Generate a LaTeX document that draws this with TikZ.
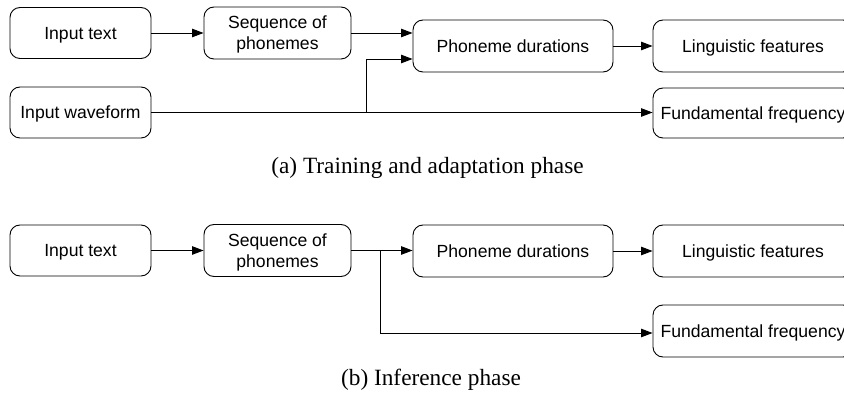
\documentclass[tikz,border=0pt]{standalone}
\usepackage{fontspec}
\setmainfont{Liberation Sans}
\newfontfamily\capfont{Liberation Serif}
\usetikzlibrary{arrows.meta,calc}
\begin{document}
\begin{tikzpicture}[x=1pt,y=-1pt,
  box/.style={draw,line width=0.9pt,rounded corners=10pt,align=center,
    font=\fontsize{17.6}{21}\selectfont,inner sep=0pt,text height=12.6pt,text depth=0pt},
  box2/.style={box,text height=34pt,text depth=-1.5pt},
  arr/.style={line width=0.9pt,-{Triangle[length=11.5pt,width=8.5pt]}},
  captext/.style={anchor=base,font=\capfont\fontsize{23.3}{26}\selectfont,inner sep=0pt}]
\useasboundingbox (0,0) rectangle (844,395);
% (a)
\node[box,minimum width=141pt,minimum height=51pt] (in1) at (80.5,33) {Input text};
\node[box2,minimum width=147pt,minimum height=52pt] (seq1) at (277.5,33) {Sequence of\\phonemes};
\node[box,minimum width=200pt,minimum height=52pt] (dur1) at (513,46) {Phoneme durations};
\node[box,minimum width=200pt,minimum height=52pt] (ling1) at (753,46) {Linguistic features};
\node[box,minimum width=141pt,minimum height=51pt] (wave) at (80.5,112.5) {Input waveform};
\node[box,minimum width=200pt,minimum height=50pt] (f01) at (753,113) {Fundamental frequency};
\draw[arr] (in1.east) -- (seq1.west);
\draw[arr] (seq1.east) -- (seq1.east -| dur1.west);
\draw[arr] (dur1.east) -- (ling1.west);
\draw[arr] (wave.east) -- (wave.east -| f01.west);
\coordinate (j1) at (366,112.5);
\draw[arr] (j1) |- ($(dur1.west)+(0,13)$);
\node[captext] (capa) at (427.5,174) {(a) Training and adaptation phase};
% (b)
\node[box,minimum width=141pt,minimum height=51pt] (in2) at (80.5,250.5) {Input text};
\node[box2,minimum width=147pt,minimum height=52pt] (seq2) at (277.5,250.5) {Sequence of\\phonemes};
\node[box,minimum width=200pt,minimum height=52pt] (dur2) at (513,251) {Phoneme durations};
\node[box,minimum width=200pt,minimum height=52pt] (ling2) at (753,251) {Linguistic features};
\node[box,minimum width=200pt,minimum height=52pt] (f02) at (753,331) {Fundamental frequency};
\draw[arr] (in2.east) -- (seq2.west);
\draw[arr] (seq2.east) -- (seq2.east -| dur2.west);
\draw[arr] (dur2.east) -- (ling2.west);
\coordinate (j2) at (380,250.5);
\draw[arr] (j2) |- ($(f02.west)+(0,2)$);
\node[captext] (capb) at (431,386) {(b) Inference phase};
\end{tikzpicture}
\end{document}
